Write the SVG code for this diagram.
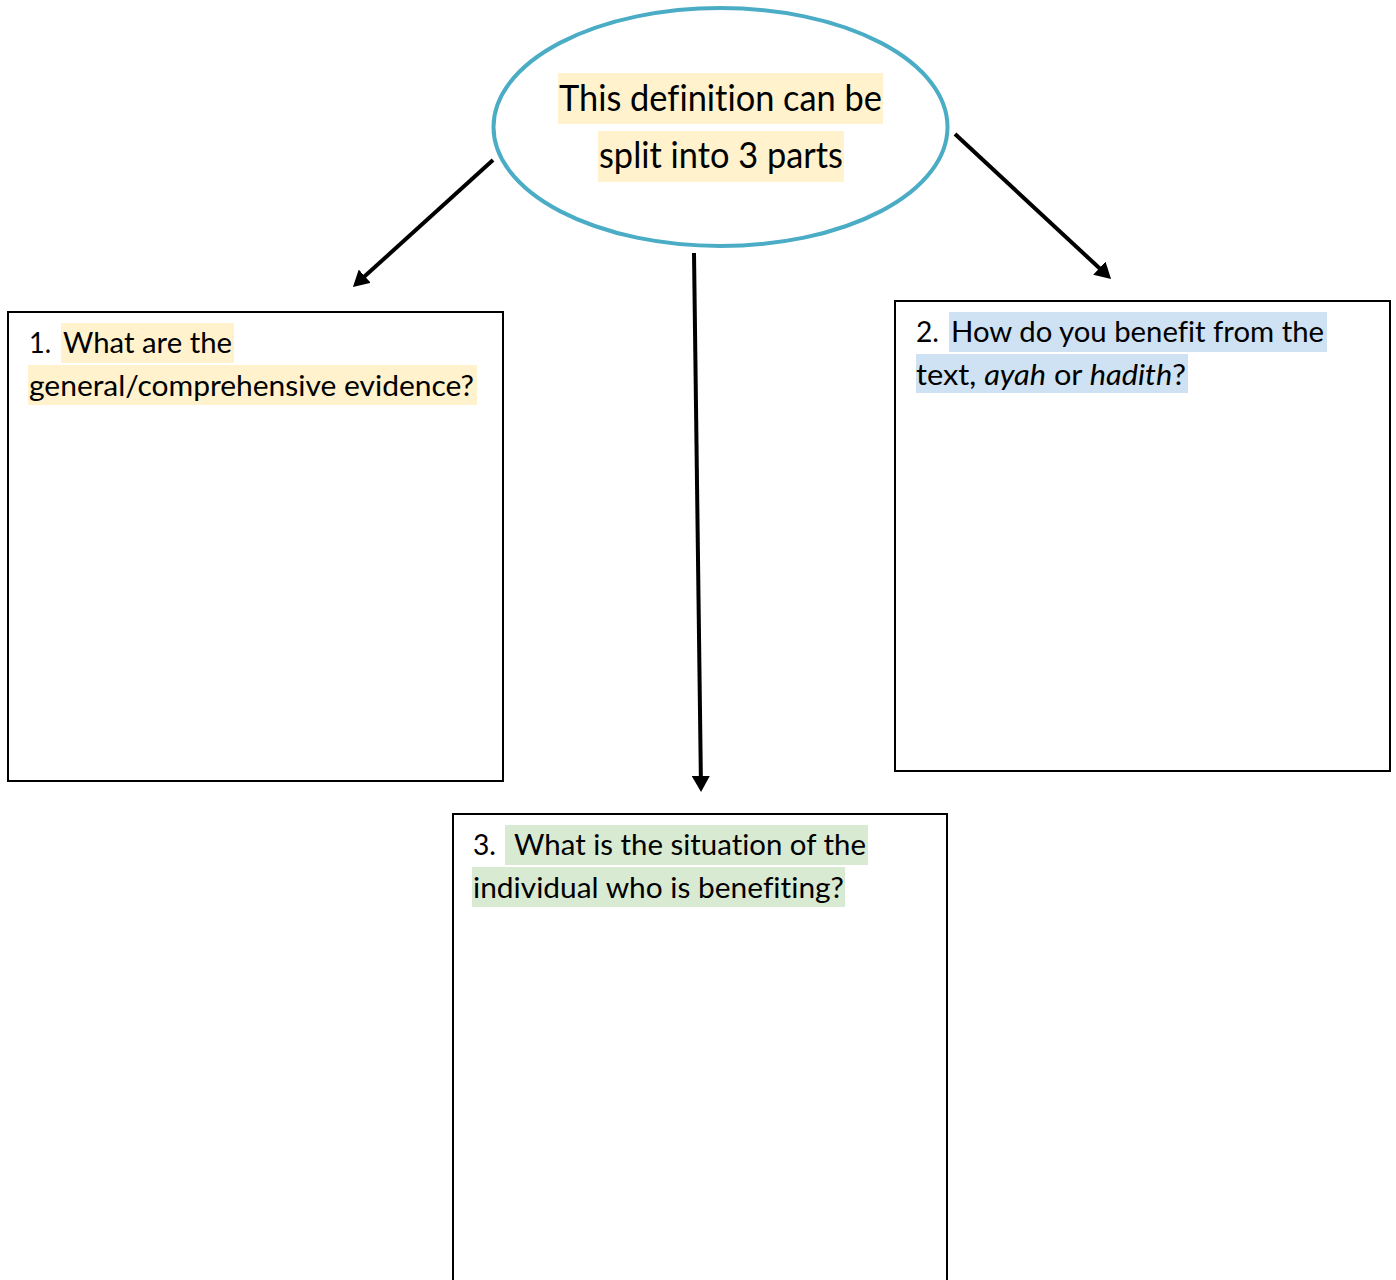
<svg xmlns="http://www.w3.org/2000/svg" width="1396" height="1280" viewBox="0 0 1396 1280">
<defs>
<style>
.t{font-family:Lato,"Open Sans","Liberation Sans",sans-serif;fill:#000;font-variant-ligatures:none;}
.box{fill:#fff;stroke:#000;stroke-width:2;}
.hy{fill:#FFF2CC;}
.hb{fill:#CFE2F3;}
.hg{fill:#D9EAD3;}
.conn{stroke:#000;stroke-width:4;fill:none;marker-end:url(#ah);}
</style>
<marker id="ah" markerUnits="userSpaceOnUse" markerWidth="17" markerHeight="18" refX="5" refY="9" orient="auto">
<path d="M0,0 L16,9 L0,18 z" fill="#000"/>
</marker>
</defs>
<rect width="1396" height="1280" fill="#fff"/>
<g id="connectors">
<line class="conn" x1="493" y1="160" x2="361.1" y2="279.6"/>
<line class="conn" x1="955" y1="134" x2="1103" y2="271.5"/>
<line class="conn" x1="694" y1="253" x2="700.9" y2="781"/>
</g>
<g id="center">
<ellipse cx="720.5" cy="127" rx="227" ry="119" fill="#fff" stroke="#4BACC6" stroke-width="4"/>
<rect class="hy" x="558" y="73" width="325" height="51"/>
<rect class="hy" x="598" y="131" width="246" height="51"/>
<text class="t" x="559" y="111" font-size="36" textLength="323" lengthAdjust="spacingAndGlyphs">This definition can be</text>
<text class="t" x="599" y="168" font-size="36" textLength="244" lengthAdjust="spacingAndGlyphs">split into 3 parts</text>
</g>
<g id="box1">
<rect class="box" x="8" y="312" width="495" height="469"/>
<rect class="hy" x="61" y="323" width="173" height="40"/>
<rect class="hy" x="28" y="365" width="449" height="40"/>
<text class="t" x="29" y="353" font-size="29" textLength="22" lengthAdjust="spacingAndGlyphs">1.</text>
<text class="t" x="63" y="353" font-size="29" textLength="169" lengthAdjust="spacingAndGlyphs">What are the</text>
<text class="t" x="29" y="396" font-size="29" textLength="445" lengthAdjust="spacingAndGlyphs">general/comprehensive evidence?</text>
</g>
<g id="box2">
<rect class="box" x="895" y="301" width="495" height="470"/>
<rect class="hb" x="949" y="312" width="378" height="40"/>
<rect class="hb" x="916" y="354" width="272" height="39"/>
<text class="t" x="916" y="342" font-size="29" textLength="23" lengthAdjust="spacingAndGlyphs">2.</text>
<text class="t" x="951" y="342" font-size="29" textLength="373" lengthAdjust="spacingAndGlyphs">How do you benefit from the</text>
<text class="t" x="916" y="385" font-size="29" textLength="270" lengthAdjust="spacingAndGlyphs">text, <tspan font-style="italic">ayah</tspan> or <tspan font-style="italic">hadith</tspan>?</text>
</g>
<g id="box3">
<rect class="box" x="453" y="814" width="494" height="480"/>
<rect class="hg" x="505" y="825" width="363" height="40"/>
<rect class="hg" x="472" y="867" width="373" height="40"/>
<text class="t" x="473" y="855" font-size="29" textLength="23" lengthAdjust="spacingAndGlyphs">3.</text>
<text class="t" x="514" y="855" font-size="29" textLength="352" lengthAdjust="spacingAndGlyphs">What is the situation of the</text>
<text class="t" x="473" y="898" font-size="29" textLength="371" lengthAdjust="spacingAndGlyphs">individual who is benefiting?</text>
</g>
</svg>
